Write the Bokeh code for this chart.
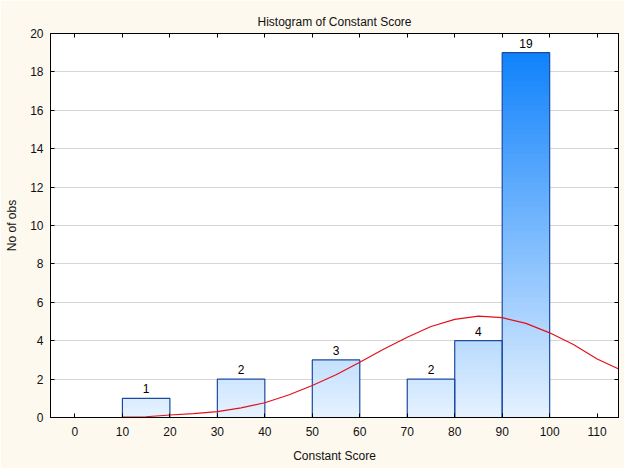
from bokeh.plotting import figure
from bokeh.models import LinearAxis, FixedTicker, ColumnDataSource, Range1d
from bokeh.embed import file_html
from bokeh.resources import INLINE

# Data
bin_left = [10, 30, 50, 70, 80, 90]
bin_right = [20, 40, 60, 80, 90, 100]
counts = [1, 2, 3, 2, 4, 19]
x_ticks = [0, 10, 20, 30, 40, 50, 60, 70, 80, 90, 100, 110]
y_ticks = [0, 2, 4, 6, 8, 10, 12, 14, 16, 18, 20]
# fitted normal curve
curve_x = [10, 15, 20, 25, 30, 35, 40, 45, 50, 55, 60, 65, 70, 75, 80, 85, 90, 95, 100, 105, 110, 115]
curve_y = [0.02, 0.04, 0.13, 0.2, 0.31, 0.5, 0.77, 1.17, 1.67, 2.23, 2.88, 3.55, 4.18, 4.74, 5.11, 5.28, 5.2, 4.9, 4.41, 3.8, 3.05, 2.47]

FONT = "Liberation Sans"
BG = "#fdf9ef"

p = figure(width=624, height=468, output_backend="svg", toolbar_location=None,
           x_range=Range1d(-5.15, 114.5), y_range=Range1d(0, 20),
           min_border_left=50, min_border_right=6, min_border_top=33, min_border_bottom=51,
           title="Histogram of Constant Score")
p.background_fill_color = "white"
p.border_fill_color = BG
p.outline_line_color = "black"
p.outline_line_width = 1
p.title.align = "center"
p.title.text_font = FONT
p.title.text_font_size = "12px"
p.title.text_font_style = "normal"
p.title.text_color = "#111111"

# gradient fill: slices coloured by height
c0 = (230, 242, 255)
c1 = (15, 130, 251)
step = 0.25
sl, sr, sb, st, sc = [], [], [], [], []
for l, r, c in zip(bin_left, bin_right, counts):
    n = int(round(c / step))
    for i in range(n):
        b = i * step
        t = min(c, b + step + 0.08)
        f = ((b + b + step) / 2) / 19.0
        col = tuple(int(round(c0[k] + (c1[k] - c0[k]) * f)) for k in range(3))
        sl.append(l); sr.append(r); sb.append(b); st.append(t)
        sc.append("#%02x%02x%02x" % col)
p.quad(left=sl, right=sr, bottom=sb, top=st, fill_color=sc, line_color=None)

src = ColumnDataSource(dict(left=bin_left, right=bin_right, top=counts,
                            mid=[(a + b) / 2 for a, b in zip(bin_left, bin_right)],
                            lab=[str(c) for c in counts]))
p.quad(left="left", right="right", bottom=0, top="top", source=src,
       fill_color=None, line_color="#1c4aa0", line_width=1.2)
p.text(x="mid", y="top", text="lab", source=src, text_align="center",
       text_baseline="bottom", y_offset=-5, text_font_size="12px",
       text_font={"value": FONT}, text_color="black")

p.line(curve_x, curve_y, line_color="#e3101c", line_width=1.2)

# grid
p.xgrid.visible = False
p.ygrid.ticker = FixedTicker(ticks=y_ticks[1:-1])
p.ygrid.grid_line_color = "#d6d6d6"

def style(ax, labels=True):
    ax.major_tick_in = 4
    ax.major_tick_out = 0
    ax.minor_tick_in = 0
    ax.minor_tick_out = 0
    ax.axis_line_color = "black"
    ax.major_tick_line_color = "black"
    ax.major_label_text_font = FONT
    ax.major_label_text_font_size = "12px"
    ax.major_label_text_color = "#111111"
    ax.axis_label_text_font = FONT
    ax.axis_label_text_font_size = "12px"
    ax.axis_label_text_font_style = "normal"
    ax.axis_label_text_color = "#111111"
    if not labels:
        ax.major_label_text_alpha = 0
        ax.major_label_text_font_size = "1px"
        ax.major_label_standoff = 0

xa = p.xaxis[0]
xa.ticker = FixedTicker(ticks=x_ticks)
style(xa)
xa.axis_label = "Constant Score"
xa.major_label_standoff = 9
xa.axis_label_standoff = 10

ya = p.yaxis[0]
ya.ticker = FixedTicker(ticks=y_ticks)
style(ya)
ya.axis_label = "No of obs"
ya.major_label_standoff = 7
ya.axis_label_standoff = 8

ra = LinearAxis(ticker=FixedTicker(ticks=y_ticks))
style(ra, labels=False)
p.add_layout(ra, "right")
ta = LinearAxis(ticker=FixedTicker(ticks=x_ticks))
style(ta, labels=False)
p.add_layout(ta, "above")

open("out.html", "w").write(file_html(p, INLINE))
